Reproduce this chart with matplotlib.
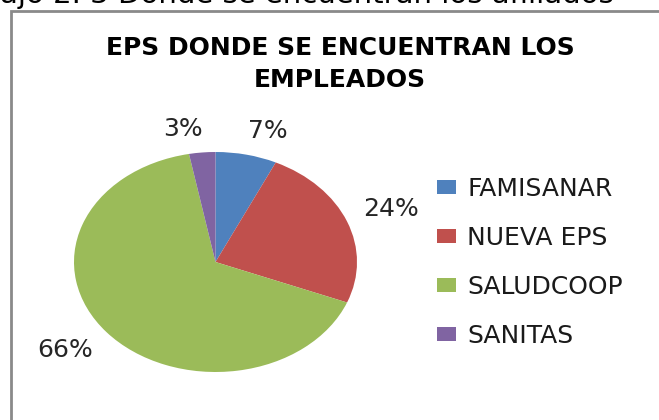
import numpy as np
import matplotlib
matplotlib.use("Agg")
import matplotlib.pyplot as plt
from matplotlib.patches import Rectangle

# data
eps_names = ["FAMISANAR", "NUEVA EPS", "SALUDCOOP", "SANITAS"]
eps_pct = [7, 24, 66, 3]
eps_colors = ["#4F81BD", "#C0504D", "#9BBB59", "#8064A2"]

title_lines = ["EPS DONDE SE ENCUENTRAN LOS", "EMPLEADOS"]
caption = "ajo 2. 3 Donde se encuentran los afiliados"

W, H = 659, 420
fig = plt.figure(figsize=(W / 100, H / 100), dpi=100)
fig.patch.set_facecolor("white")

# caption cut off at the top of the page (as in the original scan)
fig.text(0.0, 1 - 3 / H, caption, fontsize=21, family="DejaVu Sans",
         color="black", ha="left", va="baseline")

# gray chart frame (right and bottom edges fall outside the picture)
fig.patches.append(Rectangle((11 / W, -0.1), 1.2, 1 - 11 / H + 0.1,
                             transform=fig.transFigure, fill=False,
                             edgecolor="#8a8a8a", linewidth=2))

# title, two centered lines
fig.text(340 / W, 1 - 48 / H, title_lines[0], fontsize=18,
         family="DejaVu Sans", weight="bold", ha="center", va="center")
fig.text(340 / W, 1 - 80 / H, title_lines[1], fontsize=18,
         family="DejaVu Sans", weight="bold", ha="center", va="center")

# pie is stretched horizontally like the original
pie_w, pie_h = 283, 220
ax = fig.add_axes([74 / W, 1 - 372 / H, pie_w / W, pie_h / H])
wedges, texts, autotexts = ax.pie(
    eps_pct, colors=eps_colors, startangle=90, counterclock=False,
    autopct=lambda p: "%d%%" % round(p), pctdistance=1.0,
    wedgeprops=dict(linewidth=0),
    textprops=dict(fontsize=18, family="DejaVu Sans", color="#262626",
                   ha="center", va="center"))
ax.set_aspect("auto")
ax.set_xlim(-1, 1)
ax.set_ylim(-1, 1)

# move labels outside the wedge edge, Excel style (gap + half label box)
px_x, px_y = 2 / pie_w, 2 / pie_h
gap = 18
for w, t in zip(wedges, autotexts):
    ang = np.deg2rad((w.theta1 + w.theta2) / 2)
    c, s = np.cos(ang), np.sin(ang)
    hw = 9 * len(t.get_text())
    hh = 6
    x = c + (gap * c + hw * np.sign(c)) * px_x
    y = s + (gap * s + hh * np.sign(s)) * px_y
    t.set_position((x, y))

leg = fig.legend(wedges, eps_names, loc="upper left",
                 bbox_to_anchor=(437 / W, 1 - 177 / H),
                 frameon=False, borderpad=0, borderaxespad=0,
                 handlelength=0.76, handleheight=0.48, handletextpad=0.44,
                 labelspacing=1.0,
                 prop=dict(size=18, family="DejaVu Sans"))
for t in leg.get_texts():
    t.set_color("#1a1a1a")

fig.savefig("out.png", dpi=100, facecolor="white")
